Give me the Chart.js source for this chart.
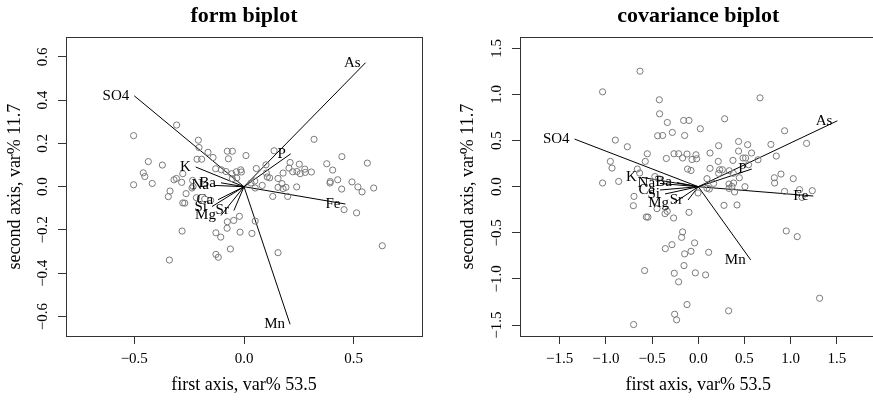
<!DOCTYPE html>
<html>
<head>
<meta charset="utf-8">
<script src="https://cdn.jsdelivr.net/npm/chart.js@4"></script>
<style>
html, body { margin: 0; padding: 0; background: #fff; overflow: hidden; width: 873px; height: 401px; }
#left { position: absolute; left: 0; top: 0; width: 440px; height: 401px; }
#right { position: absolute; left: 440px; top: 0; width: 450px; height: 401px; }
</style>
</head>
<body>
<div id="left"><canvas id="formChart"></canvas></div>
<div id="right"><canvas id="covChart"></canvas></div>
<script>
// sample scores, form biplot
const formX = [-0.307,-0.503,0.319,-0.208,-0.205,-0.164,-0.141,-0.076,-0.053,-0.071,0.009,-0.214,-0.193,-0.436,-0.372,-0.459,-0.452,-0.418,-0.503,-0.308,
  -0.319,-0.279,-0.284,-0.234,-0.232,-0.129,-0.103,-0.082,-0.056,-0.035,-0.015,-0.012,-0.053,-0.033,0.056,0.100,0.137,0.102,0.106,0.117,
  0.032,0.049,0.155,0.178,0.205,0.210,0.222,0.241,0.252,0.256,0.277,0.279,0.307,0.173,0.377,0.404,0.446,0.562,0.393,0.427,
  0.392,0.492,0.519,0.591,0.445,0.538,-0.337,-0.345,-0.264,-0.279,-0.270,-0.217,-0.179,-0.152,-0.237,0.051,0.083,0.155,0.178,0.191,
  0.240,0.131,0.199,0.456,0.513,0.630,-0.076,-0.047,-0.021,0.051,-0.282,-0.128,-0.106,-0.077,-0.018,0.036,0.155,-0.062,-0.128,-0.117,-0.340];
const formY = [0.285,0.236,0.219,0.215,0.181,0.159,0.135,0.164,0.164,0.129,0.144,0.127,0.127,0.116,0.100,0.064,0.047,0.015,0.009,0.038,
  0.032,0.060,0.020,0.029,0.001,0.083,0.078,0.070,0.060,0.069,0.078,0.068,0.037,0.040,0.084,0.101,0.166,0.063,0.045,0.041,
  0.017,0.026,0.038,0.063,0.086,0.112,0.069,0.070,0.104,0.060,0.081,0.066,0.068,0.014,0.106,0.077,0.139,0.109,0.024,0.032,
  0.017,0.022,-0.001,-0.006,-0.011,-0.024,-0.020,-0.046,-0.032,-0.075,-0.076,-0.051,-0.057,-0.063,-0.006,-0.006,0.006,-0.003,-0.009,-0.003,
  -0.001,-0.045,-0.045,-0.106,-0.121,-0.273,-0.162,-0.156,-0.137,-0.159,-0.205,-0.213,-0.233,-0.192,-0.210,-0.216,-0.305,-0.288,-0.313,-0.326,-0.339];

// sample scores, covariance biplot
const covX = [-0.631,-1.036,-0.422,0.668,-0.419,-0.335,-0.159,-0.101,0.285,0.022,-0.440,-0.386,-0.281,-0.148,-0.898,-0.768,-0.552,-0.574,-0.346,-0.263,
  -0.213,-0.170,-0.122,-0.068,-0.018,-0.116,-0.079,-0.025,0.127,0.220,0.216,0.436,0.534,0.375,0.436,0.484,0.512,0.577,0.646,0.231,
  0.260,0.335,0.444,0.544,0.786,0.844,0.934,1.172,0.823,0.826,0.895,1.028,-0.952,-0.934,-0.862,-1.036,-0.660,-0.635,-0.433,0.094,
  0.166,0.505,0.934,1.096,1.234,0.393,0.364,0.332,0.382,-0.696,-0.703,-0.563,-0.545,-0.447,-0.360,-0.336,-0.267,-0.101,-0.003,0.119,
  0.278,0.419,0.332,1.122,0.952,1.071,1.313,-0.170,-0.181,-0.285,-0.357,-0.040,-0.079,-0.148,0.112,-0.581,-0.260,-0.155,-0.213,-0.032,
  0.079,-0.122,-0.256,-0.235,0.328,-0.700,0.127,0.220,0.379,0.094,-0.470];
const covY = [1.252,1.028,0.942,0.963,0.790,0.696,0.718,0.718,0.736,0.628,0.552,0.555,0.588,0.555,0.505,0.433,0.357,0.274,0.306,0.357,
  0.357,0.311,0.354,0.295,0.303,0.191,0.176,0.346,0.365,0.444,0.274,0.490,0.455,0.285,0.386,0.311,0.311,0.365,0.292,0.184,
  0.184,0.173,0.097,0.238,0.458,0.332,0.606,0.469,0.097,0.040,0.137,0.087,0.274,0.202,0.057,0.040,0.191,0.148,0.087,0.087,
  0.036,0.000,-0.051,-0.032,-0.043,-0.057,0.003,0.029,0.040,-0.105,-0.206,-0.328,-0.330,-0.238,-0.292,-0.267,-0.339,-0.278,-0.068,-0.025,
  -0.202,-0.198,-0.018,-0.116,-0.480,-0.541,-1.209,-0.490,-0.549,-0.628,-0.671,-0.609,-0.700,-0.728,-0.711,-0.909,-0.938,-0.855,-1.031,-0.934,
  -0.956,-1.277,-1.382,-1.443,-1.345,-1.494,0.199,0.145,0.145,-0.017,0.110];

// variables (arrow tips)
const varNames = ['SO4','As','P','K','Ba','Na','Ca','Si','Mg','Sr','Fe','Mn'];
const formVarX = [-0.500,0.554,0.213,-0.220,-0.105,-0.137,-0.118,-0.146,-0.105,-0.046,0.462,0.210];
const formVarY = [0.420,0.573,0.152,0.091,0.018,0.006,-0.060,-0.092,-0.133,-0.110,-0.080,-0.636];
const covVarX = [-1.339,1.505,0.578,-0.612,-0.231,-0.414,-0.414,-0.360,-0.263,-0.111,1.245,0.567];
const covVarY = [0.516,0.714,0.191,0.101,0.045,0.035,-0.036,-0.079,-0.176,-0.144,-0.101,-0.793];

// axis ticks
const formXTicks = [-0.5, 0, 0.5];
const formYTicks = [-0.6, -0.4, -0.2, 0, 0.2, 0.4, 0.6];
const covXTicks = [-1.5, -1.0, -0.5, 0, 0.5, 1.0, 1.5];
const covYTicks = [-1.5, -1.0, -0.5, 0, 0.5, 1.0, 1.5];

const serif = "'Liberation Serif', 'DejaVu Serif', serif";

const fmt = v => v.toFixed(1).replace('-', '\u2212');

const boxPlugin = {
  id: 'box',
  afterDraw(chart) {
    const {ctx, chartArea: a} = chart;
    ctx.save();
    ctx.strokeStyle = '#333';
    ctx.lineWidth = 1;
    ctx.strokeRect(Math.round(a.left) + 0.5, Math.round(a.top) + 0.5,
      Math.round(a.right - a.left), Math.round(a.bottom - a.top));
    ctx.restore();
  }
};

const labelPlugin = {
  id: 'varLabels',
  afterDatasetsDraw(chart, args, opts) {
    const {ctx, scales: {x, y}} = chart;
    ctx.save();
    ctx.font = '15px ' + serif;
    ctx.fillStyle = '#000';
    ctx.textAlign = 'right';
    ctx.textBaseline = 'middle';
    opts.names.forEach((n, i) => {
      ctx.fillText(n, x.getPixelForValue(opts.vx[i]) - 5, y.getPixelForValue(opts.vy[i]));
    });
    ctx.restore();
  }
};

function makeChart(id, title, px, py, vx, vy, xTicks, yTicks, xr, yr, yWidth, yTitlePad, padRight) {
  const datasets = [{
    type: 'scatter',
    data: px.map((v, i) => ({x: v, y: py[i]})),
    pointRadius: 3.1,
    pointBorderWidth: 1,
    pointBackgroundColor: 'rgba(0,0,0,0)',
    pointBorderColor: '#7a7a7a',
    pointHoverRadius: 3.1
  }];
  varNames.forEach((n, i) => {
    datasets.push({
      type: 'line',
      data: [{x: 0, y: 0}, {x: vx[i], y: vy[i]}],
      borderColor: '#000',
      borderWidth: 1,
      pointRadius: 0,
      fill: false
    });
  });

  const axisTitle = (text, pad) => ({
    display: true, text, color: '#000',
    font: {family: serif, size: 18}, padding: pad
  });
  const grid = {drawOnChartArea: false, drawTicks: true, tickLength: 8, color: '#333'};

  return new Chart(document.getElementById(id), {
    data: {datasets},
    plugins: [boxPlugin, labelPlugin],
    options: {
      responsive: true,
      maintainAspectRatio: false,
      animation: false,
      events: [],
      layout: {padding: {left: 0, right: padRight, top: 0, bottom: 0}},
      scales: {
        x: {
          type: 'linear', min: -xr, max: xr,
          afterBuildTicks: s => { s.ticks = xTicks.map(v => ({value: v})); },
          afterFit: s => { s.height = 65; },
          grid, border: {display: false},
          ticks: {color: '#000', font: {family: serif, size: 15}, padding: 6, callback: v => fmt(v)},
          title: axisTitle('first axis, var% 53.5', {top: 0, bottom: 5})
        },
        y: {
          type: 'linear', min: -yr, max: yr,
          afterBuildTicks: s => { s.ticks = yTicks.map(v => ({value: v})); },
          afterFit: s => { s.width = yWidth; },
          grid, border: {display: false},
          ticks: {color: '#000', font: {family: serif, size: 15}, padding: 1,
            minRotation: 90, maxRotation: 90, crossAlign: 'center', callback: v => fmt(v)},
          title: axisTitle('second axis, var% 11.7', {top: yTitlePad, bottom: 0})
        }
      },
      plugins: {
        legend: {display: false},
        tooltip: {enabled: false},
        title: {
          display: true, text: title, color: '#000', fullSize: false,
          font: {family: serif, size: 22, weight: 'bold'},
          padding: {top: 3, bottom: 8}
        },
        varLabels: {names: varNames, vx, vy}
      }
    }
  });
}

makeChart('formChart', 'form biplot', formX, formY, formVarX, formVarY,
  formXTicks, formYTicks, 0.811, 0.69, 66, 4, 18);
makeChart('covChart', 'covariance biplot', covX, covY, covVarX, covVarY,
  covXTicks, covYTicks, 1.93, 1.618, 80, 17, 13.4);
</script>
</body>
</html>
